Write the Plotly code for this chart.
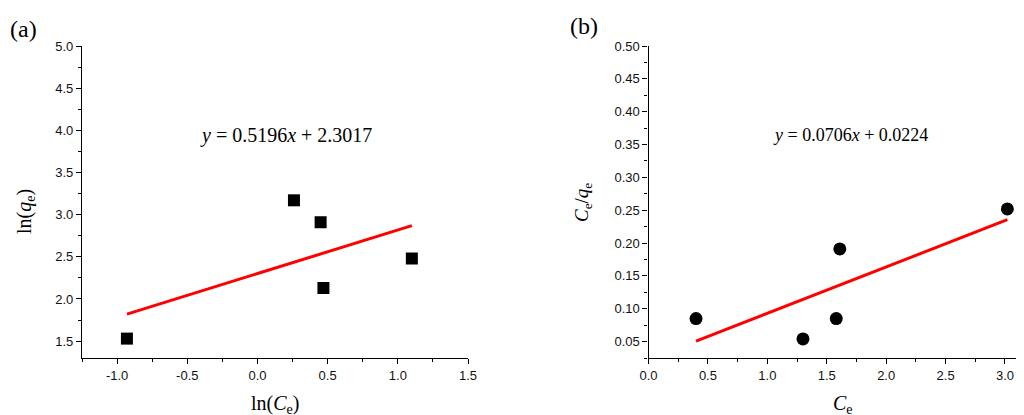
import plotly.graph_objects as go

# Panel (a): Freundlich
a_x = [-0.93, 0.26, 0.45, 0.47, 1.10]
a_y = [1.53, 3.17, 2.91, 2.13, 2.48]
a_fit_x = [-0.93, 1.10]
a_fit_y = [1.82, 2.87]
a_xticks = [-1.0, -0.5, 0.0, 0.5, 1.0, 1.5]
a_xticktext = ["-1.0", "-0.5", "0.0", "0.5", "1.0", "1.5"]
a_yticks = [1.5, 2.0, 2.5, 3.0, 3.5, 4.0, 4.5, 5.0]
a_yticktext = ["1.5", "2.0", "2.5", "3.0", "3.5", "4.0", "4.5", "5.0"]

# Panel (b): Langmuir
b_x = [0.40, 1.30, 1.58, 1.61, 3.02]
b_y = [0.085, 0.054, 0.085, 0.191, 0.252]
b_fit_x = [0.40, 3.02]
b_fit_y = [0.0506, 0.2356]
b_xticks = [0.0, 0.5, 1.0, 1.5, 2.0, 2.5, 3.0]
b_xticktext = ["0.0", "0.5", "1.0", "1.5", "2.0", "2.5", "3.0"]
b_yticks = [0.05, 0.10, 0.15, 0.20, 0.25, 0.30, 0.35, 0.40, 0.45, 0.50]
b_yticktext = ["0.05", "0.10", "0.15", "0.20", "0.25", "0.30", "0.35", "0.40", "0.45", "0.50"]

# page body has an 8px margin: the figure is drawn 8px in from the window's corner
W, H, OFF = 1016, 407, 8


def px(x):
    return (x - OFF) / W


def py(y):
    return 1 - (y - OFF) / H


fig = go.Figure()
fig.add_trace(go.Scatter(x=a_fit_x, y=a_fit_y, mode="lines", line=dict(color="#ff0000", width=3),
                         xaxis="x", yaxis="y", showlegend=False))
fig.add_trace(go.Scatter(x=a_x, y=a_y, mode="markers", marker=dict(symbol="square", size=12, color="black"),
                         xaxis="x", yaxis="y", showlegend=False))
fig.add_trace(go.Scatter(x=b_fit_x, y=b_fit_y, mode="lines", line=dict(color="#ff0000", width=3),
                         xaxis="x2", yaxis="y2", showlegend=False))
fig.add_trace(go.Scatter(x=b_x, y=b_y, mode="markers", marker=dict(symbol="circle", size=13, color="black"),
                         xaxis="x2", yaxis="y2", showlegend=False))

tickfont = dict(family="Liberation Sans, Arial", size=13, color="#111")
common = dict(showline=True, linecolor="black", linewidth=1.3, ticks="outside", ticklen=5, tickwidth=1.2,
              tickcolor="black", showgrid=False, zeroline=False, tickfont=tickfont, mirror=False,
              automargin=False)
minor_common = dict(ticks="outside", ticklen=3, tickwidth=1, tickcolor="black", showgrid=False)

yd = [py(358), py(46)]
fig.update_layout(
    width=W, height=H, margin=dict(l=0, r=0, t=0, b=0, autoexpand=False),
    plot_bgcolor="white", paper_bgcolor="white", font=dict(color="black"),
    xaxis=dict(domain=[px(82), px(468)], range=[-1.25, 1.5], tickvals=a_xticks, ticktext=a_xticktext,
               minor=dict(dtick=0.25, **minor_common), anchor="y", **common),
    yaxis=dict(domain=yd, range=[1.3, 5.0], tickvals=a_yticks, ticktext=a_yticktext,
               minor=dict(dtick=0.25, **minor_common), anchor="x", **common),
    xaxis2=dict(domain=[px(648.5), 1.0], range=[0, 3.16], tickvals=b_xticks, ticktext=b_xticktext,
                minor=dict(dtick=0.25, **minor_common), anchor="y2", **common),
    yaxis2=dict(domain=yd, range=[0.025, 0.5], tickvals=b_yticks, ticktext=b_yticktext,
                minor=dict(dtick=0.025, **minor_common), anchor="x2", **common),
)

serif = "Liberation Serif, Times New Roman"
ann = [
    dict(text="(a)", x=px(8), y=py(29), xanchor="left", yanchor="middle", size=24),
    dict(text="(b)", x=px(568), y=py(26), xanchor="left", yanchor="middle", size=24),
    dict(text="<i>y</i> = 0.5196<i>x</i> + 2.3017", x=px(286), y=py(135), xanchor="center", yanchor="middle",
         size=20),
    dict(text="<i>y</i> = 0.0706<i>x</i> + 0.0224", x=px(850), y=py(135), xanchor="center", yanchor="middle",
         size=18),
    dict(text="ln(<i>C</i><sub>e</sub>)", x=px(275), y=py(404), xanchor="center", yanchor="middle", size=20),
    dict(text="<i>C</i><sub>e</sub>", x=px(843), y=py(404), xanchor="center", yanchor="middle", size=20),
    dict(text="ln(<i>q</i><sub>e</sub>)", x=px(25), y=py(212), xanchor="center", yanchor="middle",
         textangle=-90, size=20),
    dict(text="<i>C</i><sub>e</sub>/<i>q</i><sub>e</sub>", x=px(583), y=py(203), xanchor="center",
         yanchor="middle", textangle=-90, size=19),
]
for a in ann:
    s = a.pop("size")
    a.update(xref="paper", yref="paper", showarrow=False, font=dict(family=serif, size=s, color="black"))
fig.update_layout(annotations=ann)

fig.write_html("out.html")
